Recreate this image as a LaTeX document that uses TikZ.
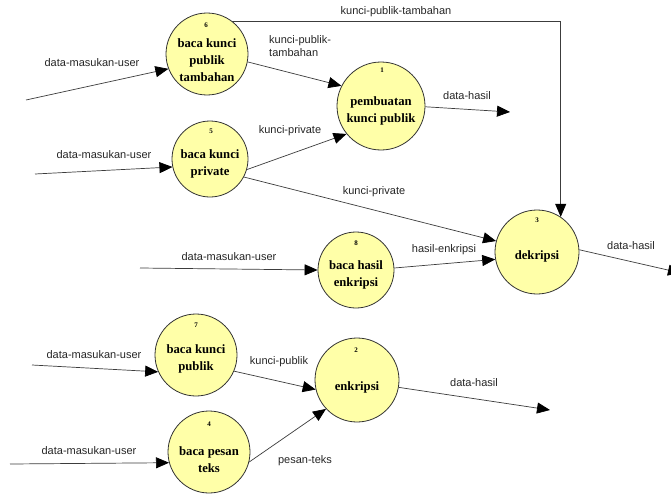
\documentclass[tikz,border=0pt]{standalone}
\usepackage{fontspec}
\setmainfont{Liberation Serif}
\newfontfamily\labfont{Liberation Sans}
\usetikzlibrary{arrows.meta}
\definecolor{procfill}{RGB}{255,255,168}
\definecolor{lineclr}{RGB}{60,60,60}
\begin{document}
\begin{tikzpicture}[x=1pt,y=-1pt,
  proc/.style={circle, draw=black!80, fill=procfill, line width=0.8pt, inner sep=0pt},
  ptext/.style={font=\bfseries\fontsize{12.7}{17}\selectfont, align=center, inner sep=0pt},
  pnum/.style={font=\bfseries\fontsize{7}{8}\selectfont, inner sep=0pt},
  flow/.style={draw=lineclr, line width=0.7pt, -{Triangle[length=13pt,width=11pt,color=black]}},
  flab/.style={font=\labfont\fontsize{11}{13}\selectfont, inner sep=0pt, text=black!85, align=left},
]
\clip (0,0) rectangle (671,495);
\fill[white] (0,0) rectangle (671,495);

% processes
\node[proc, minimum size=82pt] (c6) at (207,54) {};
\node[ptext] (t6) at (207,60) {baca kunci\\publik\\tambahan};
\node[pnum] (n6) at (206,25) {6};

\node[proc, minimum size=76pt] (c5) at (210,159) {};
\node[ptext] (t5) at (210,164) {baca kunci\\private};
\node[pnum] (n5) at (211,131) {5};

\node[proc, minimum size=88pt] (c1) at (381,106) {};
\node[ptext] (t1) at (381,111) {pembuatan\\kunci publik};
\node[pnum] (n1) at (382,70) {1};

\node[proc, minimum size=84pt] (c3) at (537,252) {};
\node[ptext] (t3) at (537,256) {dekripsi};
\node[pnum] (n3) at (537,220) {3};

\node[proc, minimum size=76pt] (c8) at (356,270) {};
\node[ptext] (t8) at (356,275) {baca hasil\\enkripsi};
\node[pnum] (n8) at (356,243) {8};

\node[proc, minimum size=82pt] (c7) at (196,355) {};
\node[ptext] (t7) at (196,359) {baca kunci\\publik};
\node[pnum] (n7) at (196,325) {7};

\node[proc, minimum size=82pt] (c4) at (209,452) {};
\node[ptext] (t4) at (209,460) {baca pesan\\teks};
\node[pnum] (n4) at (209,424) {4};

\node[proc, minimum size=84pt] (c2) at (357,380) {};
\node[ptext] (t2) at (357,387) {enkripsi};
\node[pnum] (n2) at (356,350) {2};

% free ends
\coordinate (i6) at (26,100);
\coordinate (i5) at (35,174);
\coordinate (i8) at (140,268);
\coordinate (i7) at (32,365);
\coordinate (i4) at (10,464);
\coordinate (o1) at (510,112);
\coordinate (o3) at (681,273);
\coordinate (o2) at (550,410);

% flows
\draw[flow] (i6) -- (c6.201);
\draw[flow] (c6.-11) -- (c1.153);
\draw[flow] (c6.52) -| (c3.56);
\draw[flow] (c1.-1) -- (o1);
\draw[flow] (i5) -- (c5.192);
\draw[flow] (c5.-16) -- (c1.219);
\draw[flow] (c5.-28) -- (c3.165);
\draw[flow] (i8) -- (c8.180);
\draw[flow] (c8.3) -- (c3.190);
\draw[flow] (c3.3) -- (o3);
\draw[flow] (i7) -- (c7.204);
\draw[flow] (c7.-23) -- (c2.193);
\draw[flow] (i4) -- (c4.195);
\draw[flow] (c4.-14) -- (c2.223);
\draw[flow] (c2.-10) -- (o2);

% flow labels
\node[flab] (l1) at (92,63) {data-masukan-user};
\node[flab, anchor=west] (l2) at (269,46) {kunci-publik-\\tambahan};
\node[flab] (l3) at (396,12) {kunci-publik-tambahan};
\node[flab] (l4) at (467,96) {data-hasil};
\node[flab] (l5) at (290,131) {kunci-private};
\node[flab] (l6) at (104,155) {data-masukan-user};
\node[flab] (l7) at (374,192) {kunci-private};
\node[flab] (l8) at (229,257) {data-masukan-user};
\node[flab] (l9) at (444,250) {hasil-enkripsi};
\node[flab] (l10) at (631,246) {data-hasil};
\node[flab] (l11) at (94,355) {data-masukan-user};
\node[flab] (l12) at (279,362) {kunci-publik};
\node[flab] (l13) at (89,451) {data-masukan-user};
\node[flab] (l14) at (305,461) {pesan-teks};
\node[flab] (l15) at (474,383) {data-hasil};
\end{tikzpicture}
\end{document}
